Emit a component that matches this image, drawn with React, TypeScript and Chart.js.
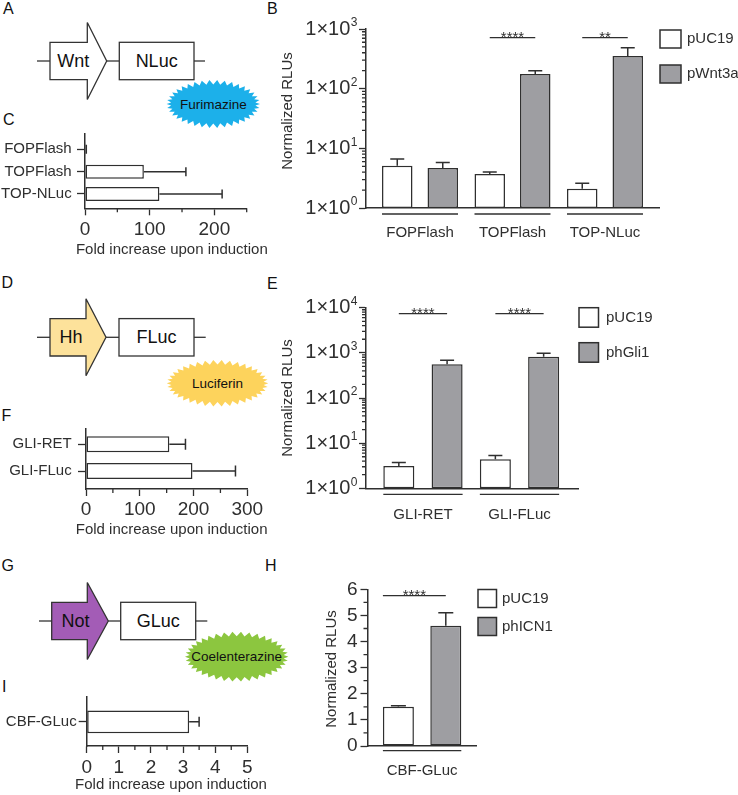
import React, { useEffect, useRef } from 'react';
import { Chart, registerables } from 'chart.js';

Chart.register(...registerables);

const PAGE_W = 738;
const PAGE_H = 795;
const FONT = "'Liberation Sans', Arial, Helvetica, sans-serif";
const INK = '#2f2f2f';
const BAR_GRAY = '#9e9ea2';
const BAR_WHITE = '#ffffff';

Chart.defaults.font.family = FONT;
Chart.defaults.color = INK;

// ---------------- Panel B (log scale, Wnt reporters)
const bGroups = ['FOPFlash', 'TOPFlash', 'TOP-NLuc'];
const bSeries = ['pUC19', 'pWnt3a'];
const bControl = [5.1, 3.7, 2.1];
const bControlSem = [1.5, 0.3, 0.5];
const bTreated = [4.7, 176, 352];
const bTreatedSem = [1.1, 23, 132];
const bStars = ['', '****', '**'];
const bMajorTicks = [1, 10, 100, 1000];
const bMinorTicks = [2, 3, 4, 5, 6, 7, 8, 9, 20, 30, 40, 50, 60, 70, 80, 90, 200, 300, 400, 500, 600, 700, 800, 900];

// ---------------- Panel C (fold increase)
const cRows = ['FOPFlash', 'TOPFlash', 'TOP-NLuc'];
const cFold = [1.2, 91, 115];
const cFoldSd = [0.8, 65, 97];
const cMajorTicks = [0, 100, 200];
const cMinorTicks = [50, 150, 250];

// ---------------- Panel E (log scale, Hh reporters)
const eGroups = ['GLI-RET', 'GLI-FLuc'];
const eSeries = ['pUC19', 'phGli1'];
const eControl = [3.1, 4.4];
const eControlSem = [0.65, 0.9];
const eTreated = [557, 822];
const eTreatedSem = [127, 155];
const eStars = ['****', '****'];
const eMajorTicks = [1, 10, 100, 1000, 10000];
const eMinorTicks = [2, 3, 4, 5, 6, 7, 8, 9, 20, 30, 40, 50, 60, 70, 80, 90, 200, 300, 400, 500, 600, 700, 800, 900, 2000, 3000, 4000, 5000, 6000, 7000, 8000, 9000];

// ---------------- Panel F (fold increase)
const fRows = ['GLI-RET', 'GLI-FLuc'];
const fFold = [155, 198];
const fFoldSd = [30, 80];
const fMajorTicks = [0, 100, 200, 300];
const fMinorTicks = [50, 150, 250];

// ---------------- Panel H (linear, Notch reporter)
const hGroups = ['CBF-GLuc'];
const hSeries = ['pUC19', 'phICN1'];
const hControl = [1.5];
const hControlSem = [0.04];
const hTreated = [4.6];
const hTreatedSem = [0.5];
const hStars = ['****'];
const hMajorTicks = [0, 1, 2, 3, 4, 5, 6];
const hMinorTicks = [0.5, 1.5, 2.5, 3.5, 4.5, 5.5];

// ---------------- Panel I (fold increase)
const iRows = ['CBF-GLuc'];
const iFold = [3.19];
const iFoldSd = [0.31];
const iMajorTicks = [0, 1, 2, 3, 4, 5];
const iMinorTicks = [0.5, 1.5, 2.5, 3.5, 4.5];

const WY = 100;
const HX = 40;
const MAJOR = 7;
const MINOR = 4;

function drawVErrors(chart: any, s: any) {
  const ctx = chart.ctx;
  const ys = chart.scales.y;
  ctx.save();
  ctx.strokeStyle = INK;
  ctx.lineWidth = 1.5;
  s.series.forEach((_: any, k: number) => {
    const meta = chart.getDatasetMeta(k);
    meta.data.forEach((bar: any, i: number) => {
      const top = ys.getPixelForValue(s.values[k][i] + s.sems[k][i]);
      ctx.beginPath();
      ctx.moveTo(bar.x, bar.y);
      ctx.lineTo(bar.x, top);
      ctx.moveTo(bar.x - s.cap / 2, top);
      ctx.lineTo(bar.x + s.cap / 2, top);
      ctx.stroke();
    });
  });
  ctx.restore();
}

function drawVExtras(chart: any, s: any) {
  const ctx = chart.ctx;
  const ys = chart.scales.y;
  const a = chart.chartArea;
  ctx.save();
  ctx.strokeStyle = INK;
  ctx.fillStyle = INK;
  ctx.lineWidth = 1.3;
  ctx.beginPath();
  s.minors.forEach((v: number) => {
    const p = ys.getPixelForValue(v);
    ctx.moveTo(a.left - MINOR, p);
    ctx.lineTo(a.left, p);
  });
  ctx.stroke();
  if (s.log) {
    s.majors.forEach((v: number) => {
      const p = ys.getPixelForValue(v);
      const exp = String(Math.round(Math.log10(v)));
      ctx.font = `12px ${FONT}`;
      const sw = ctx.measureText(exp).width;
      const right = a.left - MAJOR - 2 - sw;
      ctx.font = `20px ${FONT}`;
      ctx.textAlign = 'right';
      ctx.textBaseline = 'middle';
      ctx.fillText('1×10', right, p);
      ctx.font = `12px ${FONT}`;
      ctx.textAlign = 'left';
      ctx.fillText(exp, right + 0.5, p - 6);
    });
  }
  ctx.save();
  ctx.translate(s.titleX, s.titleY);
  ctx.rotate(-Math.PI / 2);
  ctx.font = `15px ${FONT}`;
  ctx.textAlign = 'center';
  ctx.textBaseline = 'middle';
  ctx.fillText('Normalized RLUs', 0, 0);
  ctx.restore();

  const m0 = chart.getDatasetMeta(0);
  const m1 = chart.getDatasetMeta(1);
  ctx.lineWidth = 1.3;
  s.groups.forEach((_: any, i: number) => {
    const b0 = m0.data[i];
    const b1 = m1.data[i];
    ctx.beginPath();
    ctx.moveTo(b0.x - b0.width / 2, s.underlineY);
    ctx.lineTo(b1.x + b1.width / 2, s.underlineY);
    ctx.stroke();
    if (s.stars[i]) {
      const x0 = s.sigFromEdge ? b0.x - b0.width / 2 : b0.x;
      ctx.beginPath();
      ctx.moveTo(x0, s.sigY);
      ctx.lineTo(b1.x, s.sigY);
      ctx.stroke();
      ctx.font = `15px ${FONT}`;
      ctx.textAlign = 'center';
      ctx.textBaseline = 'alphabetic';
      ctx.fillText(s.stars[i], (x0 + b1.x) / 2, s.sigY + 4);
    }
  });
  chart.data.datasets.forEach((ds: any, k: number) => {
    const L = s.legend;
    const y = L.y + k * L.dy;
    ctx.fillStyle = ds.backgroundColor;
    ctx.fillRect(L.x, y, L.w, L.h);
    ctx.lineWidth = 1.5;
    ctx.strokeStyle = INK;
    ctx.strokeRect(L.x, y, L.w, L.h);
    ctx.fillStyle = INK;
    ctx.font = `15px ${FONT}`;
    ctx.textAlign = 'left';
    ctx.textBaseline = 'middle';
    ctx.fillText(ds.label, L.tx, y + L.h / 2);
  });
  ctx.restore();
}

function vConfig(s: any): any {
  const fills = [BAR_WHITE, BAR_GRAY];
  return {
    type: 'bar',
    data: {
      datasets: s.series.map((name: string, k: number) => ({
        label: name,
        data: s.groups.map((_: any, i: number) => ({ x: i, y: s.values[k][i] })),
        backgroundColor: fills[k],
        borderColor: INK,
        borderWidth: 1.5,
        borderSkipped: false,
        categoryPercentage: s.cp,
        barPercentage: s.bp,
      })),
    },
    options: {
      responsive: false,
      animation: false,
      devicePixelRatio: 1,
      events: [],
      layout: {
        padding: { left: s.area.l - WY, top: s.area.t, right: PAGE_W - s.area.r, bottom: PAGE_H - s.area.b - HX },
      },
      plugins: { legend: { display: false }, tooltip: { enabled: false } },
      scales: {
        x: {
          type: 'linear',
          offset: false,
          min: s.xMin,
          max: s.xMax,
          afterFit: (sc: any) => { sc.height = HX; },
          afterBuildTicks: (sc: any) => { sc.ticks = s.groups.map((_: any, i: number) => ({ value: i })); },
          grid: { display: false, offset: false },
          border: { display: true, color: INK, width: 1.5 },
          ticks: {
            autoSkip: false, maxRotation: 0, minRotation: 0, padding: s.groupLabelPad, color: INK,
            font: { size: 15 },
            callback: (v: number) => s.groups[Math.round(v)] ?? '',
          },
        },
        y: {
          type: s.log ? 'logarithmic' : 'linear',
          min: s.yMin,
          max: s.yMax,
          afterFit: (sc: any) => { sc.width = WY; },
          afterBuildTicks: (sc: any) => { sc.ticks = s.majors.map((v: number) => ({ value: v })); },
          grid: { display: true, drawOnChartArea: false, drawTicks: true, tickLength: MAJOR, tickColor: INK, tickWidth: 1.3 },
          border: { display: true, color: INK, width: 1.5 },
          ticks: { display: !s.log, padding: s.numPad, color: INK, font: { size: 19 }, callback: (v: number) => String(v) },
        },
      },
    },
    plugins: [{
      id: 'vextras',
      afterDatasetsDraw: (c: any) => drawVErrors(c, s),
      afterDraw: (c: any) => drawVExtras(c, s),
    }],
  };
}

function drawHExtras(chart: any, s: any) {
  const ctx = chart.ctx;
  const xs = chart.scales.x;
  const a = chart.chartArea;
  ctx.save();
  ctx.strokeStyle = INK;
  ctx.fillStyle = INK;
  ctx.lineWidth = 1.3;
  ctx.beginPath();
  s.minors.forEach((v: number) => {
    const p = xs.getPixelForValue(v);
    ctx.moveTo(p, a.bottom);
    ctx.lineTo(p, a.bottom + MINOR);
  });
  ctx.stroke();
  ctx.font = `15px ${FONT}`;
  ctx.textAlign = 'center';
  ctx.textBaseline = 'middle';
  ctx.fillText('Fold increase upon induction', (a.left + a.right) / 2 + s.titleDX, s.titleY);
  ctx.restore();
}

function drawHErrors(chart: any, s: any) {
  const ctx = chart.ctx;
  const xs = chart.scales.x;
  ctx.save();
  ctx.strokeStyle = INK;
  ctx.lineWidth = 1.5;
  chart.getDatasetMeta(0).data.forEach((bar: any, i: number) => {
    const end = xs.getPixelForValue(s.values[i] + s.errs[i]);
    ctx.beginPath();
    ctx.moveTo(bar.x, bar.y);
    ctx.lineTo(end, bar.y);
    ctx.moveTo(end, bar.y - s.cap / 2);
    ctx.lineTo(end, bar.y + s.cap / 2);
    ctx.stroke();
  });
  ctx.restore();
}

function hConfig(s: any): any {
  return {
    type: 'bar',
    data: {
      datasets: [{
        label: 'Fold increase',
        data: s.rows.map((_: any, i: number) => ({ x: s.values[i], y: i })),
        backgroundColor: BAR_WHITE,
        borderColor: INK,
        borderWidth: 1.5,
        borderSkipped: false,
        categoryPercentage: 1,
        barPercentage: s.bp,
      }],
    },
    options: {
      indexAxis: 'y',
      responsive: false,
      animation: false,
      devicePixelRatio: 1,
      events: [],
      layout: {
        padding: { left: s.area.l - WY, top: s.area.t, right: PAGE_W - s.area.r, bottom: PAGE_H - s.area.b - HX },
      },
      plugins: { legend: { display: false }, tooltip: { enabled: false } },
      scales: {
        x: {
          type: 'linear',
          position: 'bottom',
          offset: false,
          min: 0,
          max: s.xMax,
          afterFit: (sc: any) => { sc.height = HX; },
          afterBuildTicks: (sc: any) => { sc.ticks = s.majors.map((v: number) => ({ value: v })); },
          grid: { display: true, offset: false, drawOnChartArea: false, drawTicks: true, tickLength: MAJOR, tickColor: INK, tickWidth: 1.3 },
          border: { display: true, color: INK, width: 1.5 },
          ticks: { autoSkip: false, maxRotation: 0, padding: s.numPad, color: INK, font: { size: 19 }, callback: (v: number) => String(v) },
        },
        y: {
          type: 'linear',
          position: 'left',
          offset: false,
          reverse: true,
          min: s.yMin,
          max: s.yMax,
          afterFit: (sc: any) => { sc.width = WY; },
          afterBuildTicks: (sc: any) => { sc.ticks = s.rows.map((_: any, i: number) => ({ value: i })); },
          grid: { display: true, offset: false, drawOnChartArea: false, drawTicks: true, tickLength: 8, tickColor: INK, tickWidth: 1.3 },
          border: { display: true, color: INK, width: 1.5 },
          ticks: { autoSkip: false, padding: s.rowPad, color: INK, font: { size: 15 }, callback: (v: number) => s.rows[Math.round(v)] ?? '' },
        },
      },
    },
    plugins: [{
      id: 'hextras',
      afterDatasetsDraw: (c: any) => drawHErrors(c, s),
      afterDraw: (c: any) => drawHExtras(c, s),
    }],
  };
}

const bSpec = {
  area: { l: 366, t: 29, r: 659, b: 208 }, xMin: -0.584, xMax: 2.584, log: true, yMin: 1, yMax: 1000,
  majors: bMajorTicks, minors: bMinorTicks, groups: bGroups, series: bSeries,
  values: [bControl, bTreated], sems: [bControlSem, bTreatedSem], stars: bStars,
  cp: 0.984, bp: 0.67, cap: 14, groupLabelPad: 8, numPad: 3,
  titleX: 287.5, titleY: 111, underlineY: 214, sigY: 37.7, sigFromEdge: false,
  legend: { x: 660, y: 30, dy: 35, w: 21, h: 18, tx: 687 },
};

const eSpec = {
  area: { l: 366, t: 307.7, r: 578, b: 488.3 }, xMin: -0.59, xMax: 1.606, log: true, yMin: 1, yMax: 10000,
  majors: eMajorTicks, minors: eMinorTicks, groups: eGroups, series: eSeries,
  values: [eControl, eTreated], sems: [eControlSem, eTreatedSem], stars: eStars,
  cp: 1, bp: 0.643, cap: 14, groupLabelPad: 9.7, numPad: 3,
  titleX: 288, titleY: 398, underlineY: 494.3, sigY: 313.7, sigFromEdge: false,
  legend: { x: 579, y: 307.7, dy: 35, w: 19.5, h: 19.5, tx: 606 },
};

const hSpec = {
  area: { l: 367.5, t: 589.3, r: 476.7, b: 746 }, xMin: -0.5, xMax: 0.5, log: false, yMin: 0, yMax: 6,
  majors: hMajorTicks, minors: hMinorTicks, groups: hGroups, series: hSeries,
  values: [hControl, hTreated], sems: [hControlSem, hTreatedSem], stars: hStars,
  cp: 0.868, bp: 0.654, cap: 15, groupLabelPad: 8, numPad: 3,
  titleX: 332, titleY: 669, underlineY: 750.7, sigY: 595.7, sigFromEdge: true,
  legend: { x: 478, y: 589.5, dy: 28, w: 18.5, h: 18, tx: 502 },
};

const cSpec = {
  area: { l: 85, t: 133.3, r: 246.7, b: 208.3 }, yMin: -0.716, yMax: 2.64, xMax: 250,
  rows: cRows, values: cFold, errs: cFoldSd, majors: cMajorTicks, minors: cMinorTicks,
  bp: 0.626, cap: 9, rowPad: 5.3, numPad: 3.3, titleY: 250, titleDX: 6,
};

const fSpec = {
  area: { l: 86, t: 428.3, r: 247.3, b: 489 }, yMin: -0.6, yMax: 1.674, xMax: 300,
  rows: fRows, values: fFold, errs: fFoldSd, majors: fMajorTicks, minors: fMinorTicks,
  bp: 0.6, cap: 11, rowPad: 6.3, numPad: 1.9, titleY: 530, titleDX: 5,
};

const iSpec = {
  area: { l: 86.7, t: 696.7, r: 247.3, b: 746 }, yMin: -0.51, yMax: 0.49, xMax: 5,
  rows: iRows, values: iFold, errs: iFoldSd, majors: iMajorTicks, minors: iMinorTicks,
  bp: 0.46, cap: 10, rowPad: 2, numPad: 2.9, titleY: 785, titleDX: 4,
};

function ChartCanvas({ build }: { build: () => any }) {
  const ref = useRef<HTMLCanvasElement>(null);
  useEffect(() => {
    const chart = new Chart(ref.current as HTMLCanvasElement, build());
    return () => chart.destroy();
  }, []);
  return (
    <canvas
      ref={ref}
      width={PAGE_W}
      height={PAGE_H}
      style={{ position: 'absolute', left: 0, top: 0, width: PAGE_W, height: PAGE_H }}
    />
  );
}

function Starburst({ cx, cy, rx, ry, fill, text, spikes = 38, depth = 4.5 }: any) {
  const pts: string[] = [];
  for (let k = 0; k < spikes * 2; k++) {
    const ang = (Math.PI * k) / spikes;
    const d = k % 2 === 0 ? 0 : depth;
    pts.push(`${(cx + (rx - d) * Math.cos(ang)).toFixed(1)},${(cy + (ry - d) * Math.sin(ang)).toFixed(1)}`);
  }
  return (
    <g>
      <polygon points={pts.join(' ')} fill={fill} />
      <text x={cx} y={cy} fontSize={13.5} fontFamily={FONT} fill="#111" textAnchor="middle" dominantBaseline="central">{text}</text>
    </g>
  );
}

function Construct({ cy, s0, s1, rectR, tip, box0, box1, end, fill, arrowText, arrowTextX, boxText }: any) {
  const hh = 18.7;
  const head = 38.5;
  const poly = [
    [s1, cy - hh], [rectR, cy - hh], [rectR, cy - head], [tip, cy], [rectR, cy + head], [rectR, cy + hh], [s1, cy + hh],
  ].map((p) => p.join(',')).join(' ');
  return (
    <g stroke="#333" strokeWidth={1.3} fontFamily={FONT}>
      <line x1={s0} y1={cy} x2={s1} y2={cy} />
      <polygon points={poly} fill={fill} />
      <line x1={tip} y1={cy} x2={box0} y2={cy} />
      <rect x={box0} y={cy - hh} width={box1 - box0} height={hh * 2} fill="#fff" />
      <line x1={box1} y1={cy} x2={end} y2={cy} />
      <text x={arrowTextX} y={cy} stroke="none" fill="#111" fontSize={18} textAnchor="middle" dominantBaseline="central">{arrowText}</text>
      <text x={(box0 + box1) / 2} y={cy} stroke="none" fill="#111" fontSize={18} textAnchor="middle" dominantBaseline="central">{boxText}</text>
    </g>
  );
}

const panelLetters = [
  { t: 'A', x: 3, y: 8.5 },
  { t: 'B', x: 267, y: 8.7 },
  { t: 'C', x: 3, y: 119 },
  { t: 'D', x: 1.5, y: 282.5 },
  { t: 'E', x: 267, y: 283 },
  { t: 'F', x: 1.5, y: 415 },
  { t: 'G', x: 1.5, y: 565 },
  { t: 'H', x: 265, y: 565 },
  { t: 'I', x: 2, y: 686.5 },
];

export default function App() {
  return (
    <div style={{ position: 'absolute', left: 0, top: 0, width: PAGE_W, height: PAGE_H, background: '#fff', overflow: 'hidden' }}>
      <svg width={PAGE_W} height={PAGE_H} style={{ position: 'absolute', left: 0, top: 0 }}>
        {panelLetters.map((p) => (
          <text key={p.t} x={p.x} y={p.y} fontSize={16} fontFamily={FONT} fill="#111" dominantBaseline="central">{p.t}</text>
        ))}
        <Construct cy={61} s0={37} s1={50} rectR={87.3} tip={106.7} box0={119.3} box1={194} end={205}
          fill="#fff" arrowText="Wnt" arrowTextX={73.3} boxText="NLuc" />
        <Starburst cx={213.3} cy={104} rx={46.7} ry={24} fill="#1cb0ea" text="Furimazine" />
        <Construct cy={337.3} s0={37} s1={50} rectR={86} tip={106} box0={119} box1={194} end={205.7}
          fill="#fde29b" arrowText="Hh" arrowTextX={71} boxText="FLuc" />
        <Starburst cx={217.5} cy={383.3} rx={50.8} ry={23.3} fill="#fdd35c" text="Luciferin" />
        <Construct cy={621} s0={39} s1={51.7} rectR={87.3} tip={108.3} box0={120.7} box1={195.7} end={207.3}
          fill="#a35cb6" arrowText="Not" arrowTextX={75.5} boxText="GLuc" />
        <Starburst cx={236.7} cy={656.7} rx={51.7} ry={25} fill="#8cc63f" text="Coelenterazine" />
      </svg>
      <ChartCanvas build={() => vConfig(bSpec)} />
      <ChartCanvas build={() => hConfig(cSpec)} />
      <ChartCanvas build={() => vConfig(eSpec)} />
      <ChartCanvas build={() => hConfig(fSpec)} />
      <ChartCanvas build={() => vConfig(hSpec)} />
      <ChartCanvas build={() => hConfig(iSpec)} />
    </div>
  );
}
